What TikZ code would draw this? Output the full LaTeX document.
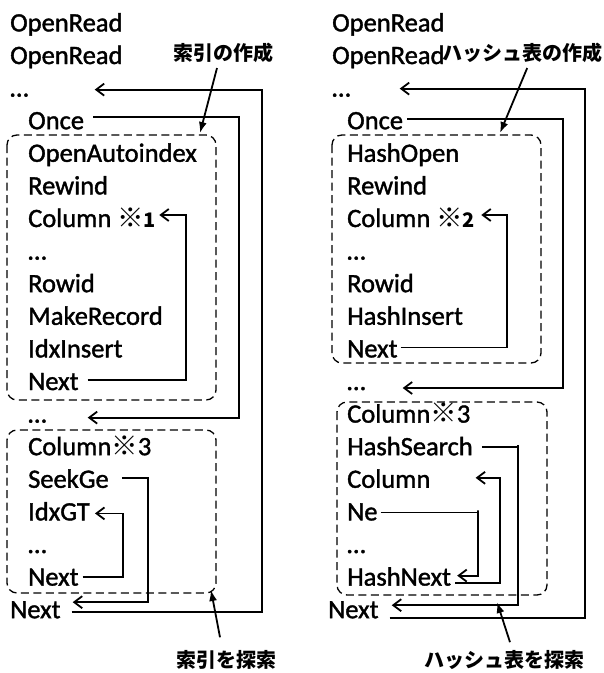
\documentclass[tikz,border=0pt]{standalone}
\usepackage{fontspec}
\setmainfont{Carlito}[FakeBold=1.4]
\newfontfamily\jp{Noto Sans CJK JP}
\usetikzlibrary{arrows.meta}

\begin{document}
\begin{tikzpicture}[x=1pt, y=-1pt,
  op/.style = {anchor=west, inner sep=0pt, text height=20pt, text depth=0pt,
               font=\fontsize{26.5}{30}\selectfont},
  tag/.style = {inner sep=0pt, font=\jp\fontsize{20}{24}\selectfont\bfseries},
  back/.style = {line width=1.8pt, -{Straight Barb[length=8pt,width=12pt]}},
  grp/.style = {line width=1.3pt, dash pattern=on 8pt off 4.5pt, rounded corners=10pt},
  callout/.style = {line width=1.8pt, -{Latex[length=11pt,width=8pt]}}]
  \useasboundingbox (0,0) rectangle (604,673);

  % dashed groups
  \draw[grp] (7,135) rectangle (216,400);
  \draw[grp] (7,430) rectangle (216,593);
  \draw[grp] (332,135) rectangle (541,363);
  \draw[grp] (337,402) rectangle (547,595);

  % index program (left)
  \foreach \t/\x [count=\i] in {OpenRead/10, OpenRead/10, \dots/10, Once/28,
      OpenAutoindex/28, Rewind/28, {Column {\jp\bfseries ※\fontsize{20}{24}\selectfont 1}}/28,
      \dots/28, Rowid/28, MakeRecord/28, IdxInsert/28, Next/28, \dots/28,
      {Column{\jp\bfseries ※}3}/28, SeekGe/28, IdxGT/28, \dots/28, Next/28, Next/10}
    \node[op] (a\i) at (\x, {21.4+32.6*(\i-1)}) {\t};

  % hash program (right)
  \foreach \t/\x [count=\i] in {OpenRead/332, OpenRead/332, \dots/332, Once/347,
      HashOpen/347, Rewind/347, {Column {\jp\bfseries ※\fontsize{20}{24}\selectfont 2}}/347,
      \dots/347, Rowid/347, HashInsert/347, Next/347, \dots/347,
      {Column{\jp\bfseries ※}3}/347, HashSearch/347, Column/347, Ne/347, \dots/347,
      HashNext/347, Next/328}
    \node[op] (b\i) at (\x, {21.4+32.6*(\i-1)}) {\t};

  \node[tag] (mkidx) at (223,53) {索引の作成};
  \node[tag, anchor=west] (mkhash) at (442,53) {ハッシュ表の作成};
  \node[tag] (findidx) at (226,660) {索引を探索};
  \node[tag] (findhash) at (504,660) {ハッシュ表を探索};

  \coordinate (hitA) at (200,133);
  \coordinate (hitB) at (500,133);
  \coordinate (hitC) at (211,590);
  \coordinate (hitD) at (497,602);
  \draw[callout] ([shift={(-6,5)}]mkidx.south) -- (hitA);
  \draw[callout] ([shift={(5,5)}]mkhash.south) -- (hitB);
  \draw[callout] ([shift={(-6,-13)}]findidx.north) -- (hitC);
  \draw[callout] ([shift={(6,-8)}]findhash.north) -- (hitD);

  % jump rails
  \coordinate (ra1) at (239,0);
  \coordinate (ra2) at (262,0);
  \coordinate (ra3) at (186,0);
  \coordinate (ra4) at (148,0);
  \coordinate (ra5) at (123,0);
  \coordinate (rb1) at (563,0);
  \coordinate (rb2) at (585,0);
  \coordinate (rb3) at (507,0);
  \coordinate (rb4) at (518,0);
  \coordinate (rb5) at (500,0);
  \coordinate (rb6) at (478,0);

  \draw[back] ([shift={(9,-2)}]a4.east) -| (a4.east -| ra1) |- ([shift={(41,5)}]a13.east);
  \draw[back] ([shift={(11,4)}]a19.east) -| (a19.east -| ra2) |- ([shift={(66,3)}]a3.east);
  \draw[back] ([xshift=9]a12.east) -| (a12.east -| ra3) |- ([shift={(3,-2)}]a7.east);
  \draw[back] ([xshift=13]a15.east) -| (a15.east -| ra4) |- ([shift={(12,-6)}]a19.east);
  \draw[back] ([shift={(4,1)}]a18.east) -| (a18.east -| ra5) |- ([shift={(5,3)}]a16.east);

  \draw[back] ([xshift=4]b4.east) -| (b4.east -| rb1) |- ([shift={(37,8)}]b12.east);
  \draw[back] ([shift={(11,10)}]b19.east) -| (b19.east -| rb2) |- ([shift={(49,2)}]b3.east);
  \draw[back] ([xshift=3]b11.east) -| (b11.east -| rb3) |- ([shift={(6,-2)}]b7.east);
  \draw[back] ([shift={(9,2)}]b14.east) -| (b14.east -| rb4) |- ([shift={(13,-3)}]b19.east);
  \draw[back] ([shift={(4,7)}]b18.east) -| (b18.east -| rb5) |- ([xshift=45]b15.east);
  \draw[back] ([shift={(3,2)}]b16.east) -| (b16.east -| rb6) |- ([xshift=6]b18.east);
\end{tikzpicture}
\end{document}
